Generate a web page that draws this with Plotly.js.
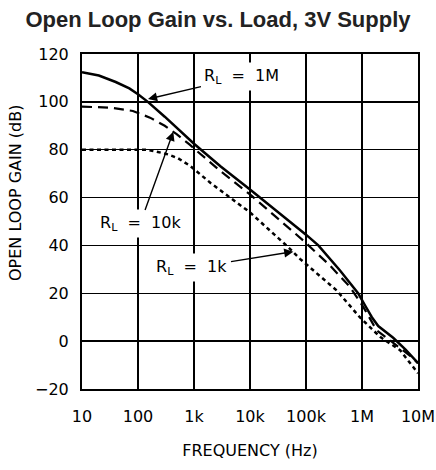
<!DOCTYPE html>
<html>
<head>
<meta charset="utf-8">
<script src="https://cdn.plot.ly/plotly-3.0.1.min.js"></script>
<style>html,body{margin:0;padding:0;background:#fff;}#chart{width:436px;height:470px;}</style>
</head>
<body>
<div id="chart"></div>
<script>
// R_L = 1M (solid)
const freq1M = [10, 20, 40, 70, 100, 150, 300, 1000, 3000, 10000, 100000, 166000, 405000, 859000, 1130000, 1500000, 1950000, 3600000, 6000000, 8800000, 10000000];
const gain1M = [112.4, 111, 108.3, 105.6, 103.2, 100, 93.8, 82.5, 73, 63.4, 44.5, 40, 29.5, 19.9, 15, 10, 6.3, 1.4, -3.5, -7.9, -9.2];
// R_L = 10k (dashed)
const freq10k = [10, 31.6, 81, 164, 300, 490, 849, 1000, 3000, 10000, 91000, 268000, 611000, 1060000, 1820000, 4200000, 7700000, 10000000];
const gain10k = [98, 97.6, 96.2, 93.4, 90, 86.5, 82, 80.5, 71, 61.3, 41.9, 31.6, 22.6, 14.2, 4.6, -1.7, -6.6, -9.2];
// R_L = 1k (dotted)
const freq1k = [10, 143, 215, 350, 520, 849, 2000, 10000, 48600, 78000, 352000, 914000, 2100000, 4800000, 7700000, 10000000];
const gain1k = [80, 80, 79.2, 78, 76.4, 73.3, 66, 53.8, 39.2, 34.4, 21.2, 10, 1.8, -3.8, -10, -13.4];

const xTickVals = [10, 100, 1000, 10000, 100000, 1000000, 10000000];
const xTickText = ['10', '100', '1k', '10k', '100k', '1M', '10M'];
const yTickVals = [-20, 0, 20, 40, 60, 80, 100, 120];

const labelFont = {family: 'DejaVu Sans, sans-serif', size: 16, color: '#000'};
const NB = '\u00A0';

const traces = [
  {x: freq1M, y: gain1M, mode: 'lines', name: 'RL = 1M', line: {color: '#000', width: 2.5}},
  {x: freq10k, y: gain10k, mode: 'lines', name: 'RL = 10k', line: {color: '#000', width: 2.2, dash: '10px,6px'}},
  {x: freq1k, y: gain1k, mode: 'lines', name: 'RL = 1k', line: {color: '#000', width: 2.5, dash: '4px,3.5px'}}
];

// label centre (lx, ly) with arrow pointing to (hx, hy); x values are log10(frequency)
function labelAnn(hx, hy, lx, ly, txt) {
  return {x: hx, y: hy, xref: 'x', yref: 'y', ax: lx, ay: ly, axref: 'x', ayref: 'y',
          text: txt, showarrow: true, arrowhead: 2, arrowsize: 1.3, arrowwidth: 1.4,
          arrowcolor: '#000', standoff: 0, font: labelFont, bgcolor: '#fff', borderpad: 3};
}

const layout = {
  width: 436, height: 470,
  margin: {l: 82, r: 18, t: 54, b: 81},
  paper_bgcolor: '#fff', plot_bgcolor: '#fff',
  showlegend: false,
  title: {text: '<b>Open Loop Gain vs. Load, 3V Supply</b>', font: {family: 'Liberation Sans, Arial, sans-serif', size: 22, color: '#222'}, x: 0.5, xanchor: 'center', y: 0.958, yanchor: 'middle'},
  xaxis: {
    type: 'log', range: [1, 7],
    tickvals: xTickVals, ticktext: xTickText,
    showgrid: true, gridcolor: '#000', gridwidth: 1.5,
    showline: true, linecolor: '#000', linewidth: 2, mirror: true,
    ticks: '', ticklabelstandoff: 12,
    tickfont: labelFont, zeroline: false,
    title: {text: 'FREQUENCY (Hz)', font: labelFont, standoff: 20}
  },
  yaxis: {
    range: [-20, 120],
    tickvals: yTickVals,
    showgrid: true, gridcolor: '#000', gridwidth: 1.5,
    showline: true, linecolor: '#000', linewidth: 2, mirror: true,
    ticks: '', ticklabelstandoff: 8,
    tickfont: labelFont, zeroline: false
  },
  annotations: [
    labelAnn(2.179, 101.2, 3.857, 110.4, 'R<sub>L</sub>' + NB + NB + '=' + NB + NB + '1M'),
    labelAnn(2.63, 87.5, 2.036, 49, 'R<sub>L</sub>' + NB + NB + '=' + NB + NB + '10k'),
    labelAnn(4.773, 37.4, 2.964, 30.6, 'R<sub>L</sub>' + NB + NB + '=' + NB + NB + '1k'),
    {xref: 'paper', yref: 'paper', x: 0, y: 0.585, xshift: -67, xanchor: 'center', yanchor: 'middle',
     text: 'OPEN LOOP GAIN (dB)', textangle: -90, showarrow: false, font: labelFont}
  ]
};

Plotly.newPlot('chart', traces, layout, {displayModeBar: false, staticPlot: true});
</script>
</body>
</html>
